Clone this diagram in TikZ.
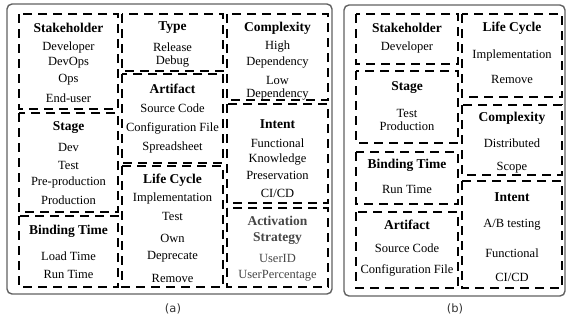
\documentclass[tikz,border=0pt]{standalone}
\usepackage{fontspec}
\setmainfont{Liberation Serif}
\newfontfamily\capfont{DejaVu Sans}
\usetikzlibrary{positioning}

\tikzset{
  frame/.style={draw=black!62, line width=1.4pt, rounded corners=5pt},
  catbox/.style={draw=black, line width=1.1pt, dash pattern=on 9pt off 6pt},
  cattitle/.style={font=\fontsize{13.5}{16}\selectfont\bfseries, inner sep=0pt, align=center},
  catitem/.style={font=\fontsize{12.5}{14}\selectfont, inner sep=0pt},
  caption/.style={font=\capfont\fontsize{11.5}{13}\selectfont, inner sep=0pt, text=black!80},
}

\begin{document}
\begin{tikzpicture}[x=1pt, y=-1pt]
\useasboundingbox (0,0) rectangle (566,322);

% (a)
\draw[frame] (7,4) rectangle (332,294);
\draw[catbox] (19,14) rectangle (118,109);
\draw[catbox] (19,113) rectangle (118,212);
\draw[catbox] (19,216) rectangle (118,287);
\draw[catbox] (122,14) rectangle (223,71);
\draw[catbox] (122,74) rectangle (223,163);
\draw[catbox] (122,166) rectangle (223,287);
\draw[catbox] (227,14) rectangle (328,100);
\draw[catbox] (227,104) rectangle (328,203);
\draw[catbox] (227,208) rectangle (328,287);

\node[cattitle] (aStake) at (68.5,28) {Stakeholder};
\foreach \y/\t [count=\i] in {47/Developer, 63/DevOps, 80/Ops, 98/End-user}
 \node[catitem] (aStake\i) at (68.5,\y) {\t};
\node[cattitle] (aStage) at (68.5,128) {Stage};
\foreach \y/\t [count=\i] in {147/Dev, 165/Test, 182/Pre-production, 200/Production}
 \node[catitem] (aStage\i) at (68.5,\y) {\t};
\node[cattitle] (aBind) at (68.5,231) {Binding Time};
\foreach \y/\t [count=\i] in {256/Load Time, 274/Run Time}
 \node[catitem] (aBind\i) at (68.5,\y) {\t};

\node[cattitle] (aType) at (172.5,28) {Type};
\foreach \y/\t [count=\i] in {47/Release, 62/Debug}
 \node[catitem] (aType\i) at (172.5,\y) {\t};
\node[cattitle] (aArt) at (172.5,89) {Artifact};
\foreach \y/\t [count=\i] in {108/Source Code, 128/Configuration File, 147/Spreadsheet}
 \node[catitem] (aArt\i) at (172.5,\y) {\t};
\node[cattitle] (aLife) at (172.5,180) {Life Cycle};
\foreach \y/\t [count=\i] in {198/Implementation, 216/Test, 238/Own, 257/Deprecate, 278/Remove}
 \node[catitem] (aLife\i) at (172.5,\y) {\t};

\node[cattitle] (aComp) at (277.5,28) {Complexity};
\foreach \y/\t [count=\i] in {47/High, 63/Dependency, 80/Low, 95/Dependency}
 \node[catitem] (aComp\i) at (277.5,\y) {\t};
\node[cattitle] (aInt) at (277.5,124) {Intent};
\foreach \y/\t [count=\i] in {143/Functional, 160/Knowledge, 175/Preservation, 193/{CI/CD}}
 \node[catitem] (aInt\i) at (277.5,\y) {\t};
\node[cattitle, text=black!72] (aAct) at (277.5,230) {Activation\\Strategy};
\foreach \y/\t [count=\i] in {258/UserID, 276/UserPercentage}
 \node[catitem, text=black!72] (aAct\i) at (277.5,\y) {\t};

\node[caption] (capA) at (173,309) {(a)};

% (b)
\draw[frame] (344,5) rectangle (565,296);
\draw[catbox] (356,14) rectangle (458,64);
\draw[catbox] (356,71) rectangle (458,143);
\draw[catbox] (356,152) rectangle (458,204);
\draw[catbox] (356,212) rectangle (458,288);
\draw[catbox] (462,14) rectangle (562,97);
\draw[catbox] (462,105) rectangle (562,175);
\draw[catbox] (462,181) rectangle (562,288);

\node[cattitle] (bStake) at (407,28) {Stakeholder};
\node[catitem] (bStake1) at (407,47) {Developer};
\node[cattitle] (bStage) at (407,88) {Stage};
\foreach \y/\t [count=\i] in {113/Test, 126/Production}
 \node[catitem] (bStage\i) at (407,\y) {\t};
\node[cattitle] (bBind) at (407,165) {Binding Time};
\node[catitem] (bBind1) at (407,189) {Run Time};
\node[cattitle] (bArt) at (407,225) {Artifact};
\foreach \y/\t [count=\i] in {248/Source Code, 270/Configuration File}
 \node[catitem] (bArt\i) at (407,\y) {\t};

\node[cattitle] (bLife) at (512,28) {Life Cycle};
\foreach \y/\t [count=\i] in {55/Implementation, 79/Remove}
 \node[catitem] (bLife\i) at (512,\y) {\t};
\node[cattitle] (bComp) at (512,118) {Complexity};
\foreach \y/\t [count=\i] in {143/Distributed, 168/Scope}
 \node[catitem] (bComp\i) at (512,\y) {\t};
\node[cattitle] (bInt) at (512,197) {Intent};
\foreach \y/\t [count=\i] in {225/{A/B testing}, 253/Functional, 277/{CI/CD}}
 \node[catitem] (bInt\i) at (512,\y) {\t};

\node[caption] (capB) at (455,309) {(b)};
\end{tikzpicture}
\end{document}
